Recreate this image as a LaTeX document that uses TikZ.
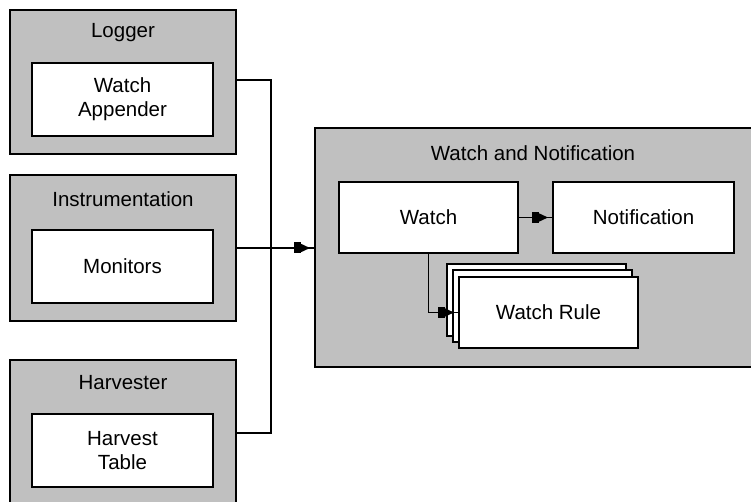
\documentclass[tikz,border=0pt]{standalone}
\usepackage{fontspec}
\setmainfont{Liberation Sans}
\usetikzlibrary{arrows.meta}
\definecolor{boxgray}{RGB}{192,192,192}
\begin{document}
\begin{tikzpicture}[x=1pt,y=-1pt,
  every node/.style={font=\fontsize{20.5}{24}\selectfont},
  outerbox/.style={draw=black,line width=1.5pt,fill=boxgray,inner sep=0pt,outer sep=0pt,anchor=north west},
  innerbox/.style={draw=black,line width=1.5pt,fill=white,inner sep=0pt,outer sep=0pt,anchor=north west,align=center},
  title/.style={inner sep=0pt},
  conn/.style={draw=black,line width=1.5pt},
  tipline/.style={draw=black,line width=1.5pt,shorten >=5pt,-{Square[length=7pt,width=11pt]Triangle[length=9pt,width=8pt]}}
]
\useasboundingbox (0,0) rectangle (751,502);
% left groups
\node[outerbox,minimum width=226pt,minimum height=144pt] (logger) at (10,10) {};
\node[title] (loggert) at (123,33) {Logger};
\node[innerbox,minimum width=181pt,minimum height=73pt] (appender) at (32,63) {Watch\\Appender};

\node[outerbox,minimum width=226pt,minimum height=146pt] (instr) at (10,175) {};
\node[title] (instrt) at (123,199) {Instrumentation};
\node[innerbox,minimum width=181pt,minimum height=73pt] (monitors) at (32,230) {Monitors};

\node[outerbox,minimum width=226pt,minimum height=160pt] (harv) at (10,360) {};
\node[title] (harvt) at (123,383) {Harvester};
\node[innerbox,minimum width=181pt,minimum height=73pt] (htable) at (32,414) {Harvest\\Table};

% watch and notification group
\node[outerbox,minimum width=450pt,minimum height=239pt] (wn) at (315,128) {};
\node[title] (wnt) at (533,153) {Watch and Notification};
\node[innerbox,minimum width=179pt,minimum height=71pt] (watch) at (339,182) {Watch};
\node[innerbox,minimum width=181pt,minimum height=71pt] (notif) at (553,182) {Notification};
\node[innerbox,minimum width=179pt,minimum height=72pt] (ruleback) at (447,264) {};
\node[innerbox,minimum width=179pt,minimum height=72pt] (rulemid) at (453,270) {};
\node[innerbox,minimum width=179pt,minimum height=71pt] (rule) at (459,277) {Watch Rule};

% bus
\coordinate (btop) at (271,80);
\coordinate (bbot) at (271,433);
\draw[conn] (logger.east |- btop) -- (btop) -- (bbot) -- (harv.east |- bbot);
\draw[conn] (instr.east) -- (instr.east -| wn.west);
\draw[tipline] (instr.east) -- (instr.east -| wn.west);

\draw[conn] (watch.east) -- (notif.west);
\draw[tipline] (watch.east) -- (notif.west);

\draw[conn] (watch.south) |- (rule.west);
\draw[tipline] (watch.south) |- (rule.west);
\end{tikzpicture}
\end{document}
